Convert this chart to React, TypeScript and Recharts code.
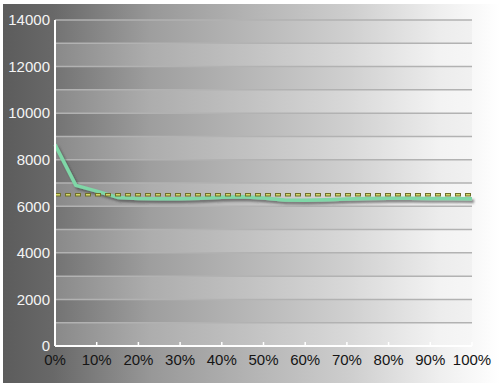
import React from 'react';
import { LineChart, Line, XAxis, YAxis, CartesianGrid } from 'recharts';

const percents = [0, 5, 10, 15, 20, 25, 30, 35, 40, 45, 50, 55, 60, 65, 70, 75, 80, 85, 90, 95, 100];
const measured = [8650, 6900, 6650, 6380, 6330, 6320, 6320, 6340, 6390, 6410, 6360, 6270, 6260, 6280, 6310, 6330, 6340, 6340, 6330, 6330, 6320];
const reference = [6500, 6500, 6500, 6500, 6500, 6500, 6500, 6500, 6500, 6500, 6500, 6500, 6500, 6500, 6500, 6500, 6500, 6500, 6500, 6500, 6500];
const xTicks = [0, 10, 20, 30, 40, 50, 60, 70, 80, 90, 100];
const yTicks = [0, 2000, 4000, 6000, 8000, 10000, 12000, 14000];
const gridTicks = [0, 1000, 2000, 3000, 4000, 5000, 6000, 7000, 8000, 9000, 10000, 11000, 12000, 13000, 14000];

const data = percents.map((p, i) => ({ x: p, v: measured[i], t: reference[i] }));

const FONT = '"Liberation Sans", Arial, sans-serif';

const XTick = (props: any) => {
  const { x, y, payload } = props;
  return (
    <g>
      <line x1={x} x2={x} y1={y - 4} y2={y} stroke="#ffffff" strokeWidth={1.5} />
      <text x={x} y={y + 19} textAnchor="middle" fill="#151515" fontSize={15} fontFamily={FONT}>
        {payload.value}%
      </text>
    </g>
  );
};

const gridGen = (args: any) => {
  const { yAxis, offset } = args || {};
  const s = yAxis && yAxis.scale;
  return gridTicks.map((v) => {
    if (typeof s === 'function') return s(v);
    if (s && typeof s.map === 'function') return s.map(v);
    return offset.top + offset.height * (1 - v / 14000);
  });
};

export default function App() {
  return (
    <div style={{ position: 'absolute', left: 0, top: 0, width: 500, height: 390, background: '#ffffff' }}>
      <svg width={0} height={0} style={{ position: 'absolute' }}>
        <defs>
          <linearGradient id="bandDark" gradientUnits="userSpaceOnUse" x1="0" y1="0" x2="500" y2="0">
            <stop offset="0" stopColor="#646464" />
            <stop offset="0.11" stopColor="#737373" />
            <stop offset="0.3" stopColor="#9e9e9e" />
            <stop offset="0.5" stopColor="#b7b7b7" />
            <stop offset="0.7" stopColor="#d0d0d0" />
            <stop offset="0.88" stopColor="#ececec" />
            <stop offset="1" stopColor="#f5f5f5" />
          </linearGradient>
          <linearGradient id="bandLight" gradientUnits="userSpaceOnUse" x1="0" y1="0" x2="500" y2="0">
            <stop offset="0" stopColor="#7a7a7a" />
            <stop offset="0.11" stopColor="#898989" />
            <stop offset="0.3" stopColor="#adadad" />
            <stop offset="0.5" stopColor="#c2c2c2" />
            <stop offset="0.7" stopColor="#d9d9d9" />
            <stop offset="0.88" stopColor="#f3f3f3" />
            <stop offset="1" stopColor="#f9f9f9" />
          </linearGradient>
          <filter id="lineShadow" x="-5%" y="-20%" width="110%" height="140%">
            <feDropShadow dx="2" dy="2.5" stdDeviation="1.2" floodColor="#303030" floodOpacity="0.6" />
          </filter>
        </defs>
      </svg>
      <div
        style={{
          position: 'absolute',
          left: 3,
          top: 4,
          width: 497,
          height: 379,
          background:
            'linear-gradient(to right, #5c5c5c 0%, #686868 10%, #989898 30%, #b4b4b4 50%, #cecece 70%, #efefef 88%, #ffffff 100%)',
        }}
      />
      <div style={{ position: 'absolute', left: 0, top: 0 }}>
        <LineChart width={500} height={390} data={data} margin={{ top: 20, right: 28, bottom: 0, left: 0 }}>
          <CartesianGrid
            vertical={false}
            stroke="#b2b2b2"
            strokeWidth={1.5}
            horizontalCoordinatesGenerator={gridGen}
            horizontalFill={['url(#bandDark)', 'url(#bandLight)']}
            fillOpacity={1}
          />
          <XAxis
            dataKey="x"
            type="number"
            domain={[0, 100]}
            ticks={xTicks}
            height={44}
            axisLine={{ stroke: '#ffffff', strokeWidth: 2 }}
            tickLine={false}
            tickSize={0}
            tickMargin={0}
            tick={<XTick />}
            interval={0}
          />
          <YAxis
            domain={[0, 14000]}
            ticks={yTicks}
            width={55}
            axisLine={{ stroke: '#ffffff', strokeWidth: 2 }}
            tickLine={false}
            tickSize={0}
            tickMargin={5}
            interval={0}
            tick={{ fill: '#f4f4f4', fontSize: 15, fontFamily: FONT }}
          />
          <Line
            dataKey="v"
            stroke="#7fd7a7"
            strokeWidth={3.5}
            dot={false}
            isAnimationActive={false}
            filter="url(#lineShadow)"
            strokeLinejoin="round"
          />
          <Line dataKey="t" stroke="#6f6f2a" strokeWidth={3.5} strokeDasharray="6 4" dot={false} isAnimationActive={false} />
          <Line
            dataKey="t"
            stroke="#d4d86a"
            strokeWidth={1.5}
            strokeDasharray="4 6"
            strokeDashoffset={-1}
            dot={false}
            isAnimationActive={false}
          />
        </LineChart>
      </div>
    </div>
  );
}
